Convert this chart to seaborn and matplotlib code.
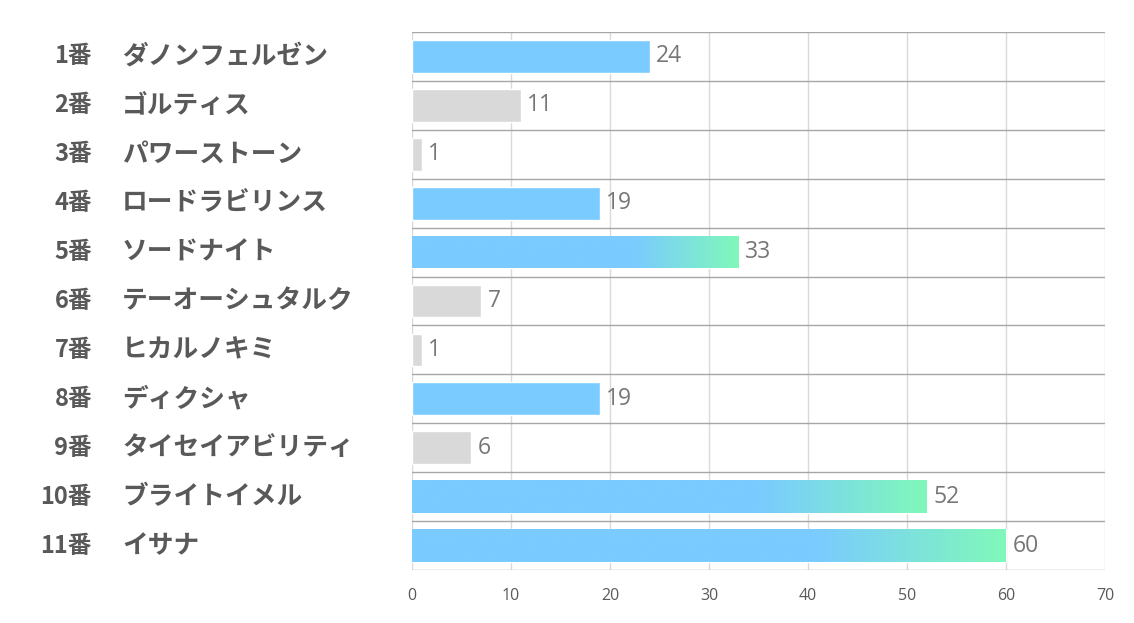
import matplotlib
matplotlib.use("Agg")
import matplotlib.pyplot as plt
import matplotlib.transforms as mtransforms
from matplotlib.colors import LinearSegmentedColormap
import numpy as np
import pandas as pd
import seaborn as sns

numbers = ["1番", "2番", "3番", "4番", "5番", "6番", "7番", "8番", "9番", "10番", "11番"]
names = ["ダノンフェルゼン", "ゴルティス", "パワーストーン", "ロードラビリンス", "ソードナイト",
         "テーオーシュタルク", "ヒカルノキミ", "ディクシャ", "タイセイアビリティ", "ブライトイメル", "イサナ"]
values = [24, 11, 1, 19, 33, 7, 1, 19, 6, 52, 60]
kinds = ["blue", "gray", "gray", "blue", "grad", "gray", "gray", "blue", "gray", "grad", "grad"]
xticks = [0, 10, 20, 30, 40, 50, 60, 70]

BLUE = "#7ACBFF"
GREEN = "#80F8BA"
GRAY = "#D9D9D9"

sns.set_theme(style="white")
plt.rcParams['font.family'] = ['Noto Sans CJK JP', 'DejaVu Sans']

df = pd.DataFrame({"label": numbers, "value": values, "kind": kinds})
palette = [GRAY if k == "gray" else BLUE for k in kinds]

fig = plt.figure(figsize=(11.34, 6.23), dpi=100)
ax = fig.add_axes([412/1134, 1-570/623, 693/1134, 538/623])

sns.barplot(data=df, y="label", x="value", hue="label", palette=palette, legend=False,
            orient="h", width=0.67, ax=ax, saturation=1, zorder=3)

ax.set_xlim(0, 70)
ax.set_ylim(len(values) - 0.5, -0.5)
ax.set_xticks(xticks)
ax.set_xticklabels([str(t) for t in xticks], fontsize=11.5, color="#595959", family=["Open Sans", "DejaVu Sans"])
ax.tick_params(axis="x", length=0, pad=13)
ax.set_yticks([])
ax.set_xlabel("")
ax.set_ylabel("")
for s in ax.spines.values():
    s.set_visible(False)

# vertical grid
for t in xticks:
    ax.axvline(t, color="#D9D9D9", lw=1, zorder=1)
# row separators
for i in range(len(values) + 1):
    ax.axhline(i - 0.5, color="#A6A6A6", lw=1, zorder=1)

# gradient bars
cmap = LinearSegmentedColormap.from_list("bg", [(0, BLUE), (0.68, BLUE), (1.0, GREEN)])
grad = np.linspace(0, 1, 256).reshape(1, -1)
for patch, k in zip(ax.patches, kinds):
    if k == "grad":
        x0, y0 = patch.get_x(), patch.get_y()
        w, h = patch.get_width(), patch.get_height()
        im = ax.imshow(grad, cmap=cmap, aspect="auto", extent=[x0, x0 + w, y0 + h, y0],
                       zorder=4, interpolation="bicubic")
        im.set_clip_path(patch)
ax.set_xlim(0, 70)
ax.set_ylim(len(values) - 0.5, -0.5)

# value labels
for i, v in enumerate(values):
    ax.annotate(str(v), (v, i), xytext=(4.5, 0), textcoords="offset points",
                va="center", ha="left", fontsize=16.5, color="#767676",
                family=["Open Sans", "DejaVu Sans"], zorder=5)

# left labels
trans = mtransforms.blended_transform_factory(ax.transAxes, ax.transData)
for i, (n, name) in enumerate(zip(numbers, names)):
    ax.text((92 - 412) / 693, i, n, transform=trans, ha="right", va="center",
            fontsize=17, fontweight="bold", color="#595959")
    ax.text((122 - 412) / 693, i, name, transform=trans, ha="left", va="center",
            fontsize=18.5, fontweight="bold", color="#595959")

fig.savefig("out.png", dpi=100, facecolor="white")
